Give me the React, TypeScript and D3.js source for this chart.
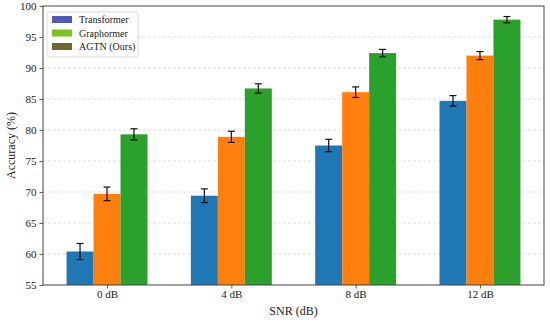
import { useRef, useEffect } from 'react';
import * as d3 from 'd3';

const categories = ['0 dB', '4 dB', '8 dB', '12 dB'];
const seriesNames = ['Transformer', 'Graphormer', 'AGTN (Ours)'];
const transformer = [60.4, 69.4, 77.5, 84.7];
const graphormer = [69.7, 78.9, 86.1, 92.0];
const agtn = [79.3, 86.7, 92.4, 97.8];
const transformerErr = [1.3, 1.1, 1.0, 0.85];
const graphormerErr = [1.1, 0.9, 0.85, 0.65];
const agtnErr = [0.9, 0.75, 0.6, 0.5];
const yTicks = [55, 60, 65, 70, 75, 80, 85, 90, 95, 100];

const barColors = ['#1f77b4', '#ff7f0e', '#2ca02c'];
const legendColors = ['#5059b8', '#7fc11f', '#6f6a2c'];

const App = () => {
  const svgRef = useRef<SVGSVGElement>(null);

  useEffect(() => {
    const svg = d3.select(svgRef.current);
    svg.selectAll('*').remove();
    const width = 550;
    const height = 322;
    const margin = { top: 6, right: 6, bottom: 37, left: 43 };
    const font = '"Liberation Serif", "DejaVu Serif", serif';

    const x = d3.scaleLinear()
      .domain([-0.515, 3.515])
      .range([margin.left, width - margin.right]);
    const y = d3.scaleLinear()
      .domain([55, 100])
      .range([height - margin.bottom, margin.top]);

    const barW = 0.217;
    const series = [
      { name: seriesNames[0], values: transformer, err: transformerErr },
      { name: seriesNames[1], values: graphormer, err: graphormerErr },
      { name: seriesNames[2], values: agtn, err: agtnErr },
    ];

    // grid
    svg.append('g')
      .selectAll('line')
      .data(yTicks.slice(1, -1))
      .join('line')
      .attr('x1', margin.left)
      .attr('x2', width - margin.right)
      .attr('y1', d => y(d))
      .attr('y2', d => y(d))
      .attr('stroke', '#c4c4c4')
      .attr('stroke-opacity', 0.7)
      .attr('stroke-width', 0.8)
      .attr('stroke-dasharray', '3,2');

    // bars
    series.forEach((s, si) => {
      const off = (si - 1) * barW;
      const g = svg.append('g');
      g.selectAll('rect')
        .data(s.values)
        .join('rect')
        .attr('x', (_, i) => x(i + off - barW / 2))
        .attr('y', d => y(d))
        .attr('width', x(barW) - x(0))
        .attr('height', d => y(55) - y(d))
        .attr('fill', barColors[si]);

      const eg = svg.append('g').attr('stroke', '#111').attr('stroke-width', 1.2);
      s.values.forEach((v, i) => {
        const cx = x(i + off);
        const e = s.err[i];
        eg.append('line').attr('x1', cx).attr('x2', cx).attr('y1', y(v - e)).attr('y2', y(v + e));
        eg.append('line').attr('x1', cx - 3.5).attr('x2', cx + 3.5).attr('y1', y(v - e)).attr('y2', y(v - e));
        eg.append('line').attr('x1', cx - 3.5).attr('x2', cx + 3.5).attr('y1', y(v + e)).attr('y2', y(v + e));
      });
    });

    // axes
    const yAxis = svg.append('g')
      .attr('transform', `translate(${margin.left},0)`)
      .call(d3.axisLeft(y).tickValues(yTicks).tickSize(3.5).tickSizeOuter(0).tickPadding(3));
    const xAxis = svg.append('g')
      .attr('transform', `translate(0,${height - margin.bottom})`)
      .call(d3.axisBottom(x).tickValues([0, 1, 2, 3]).tickFormat((d) => categories[d as number]).tickSize(3.5).tickSizeOuter(0).tickPadding(2));
    [yAxis, xAxis].forEach(a => {
      a.select('.domain').remove();
      a.selectAll('line').attr('stroke', '#333').attr('stroke-width', 0.8);
      a.selectAll('text').attr('font-family', font).attr('font-size', 11).attr('fill', '#222');
    });

    // frame
    svg.append('rect')
      .attr('x', margin.left)
      .attr('y', margin.top)
      .attr('width', width - margin.left - margin.right)
      .attr('height', height - margin.top - margin.bottom)
      .attr('fill', 'none')
      .attr('stroke', '#444')
      .attr('stroke-width', 1);

    svg.append('text')
      .attr('x', (margin.left + width - margin.right) / 2)
      .attr('y', 315)
      .attr('text-anchor', 'middle')
      .attr('font-family', font)
      .attr('font-size', 12)
      .attr('fill', '#222')
      .text('SNR (dB)');

    svg.append('text')
      .attr('transform', `translate(15,${(margin.top + height - margin.bottom) / 2}) rotate(-90)`)
      .attr('text-anchor', 'middle')
      .attr('font-family', font)
      .attr('font-size', 12)
      .attr('fill', '#222')
      .text('Accuracy (%)');

    // legend
    const lg = svg.append('g').attr('transform', 'translate(47,12)');
    lg.append('rect')
      .attr('width', 91)
      .attr('height', 45)
      .attr('rx', 2)
      .attr('fill', 'white')
      .attr('fill-opacity', 0.85)
      .attr('stroke', '#d0d0d0')
      .attr('stroke-width', 0.8);
    seriesNames.forEach((n, i) => {
      lg.append('rect')
        .attr('x', 5)
        .attr('y', 4 + i * 13.5)
        .attr('width', 20)
        .attr('height', 7)
        .attr('fill', legendColors[i]);
      lg.append('text')
        .attr('x', 32)
        .attr('y', 11 + i * 13.5)
        .attr('font-family', font)
        .attr('font-size', 10)
        .attr('fill', '#222')
        .text(n);
    });
  }, []);

  return <svg ref={svgRef} width={550} height={322} style={{ position: 'absolute', left: 0, top: 0 }}></svg>;
};

export default App;
